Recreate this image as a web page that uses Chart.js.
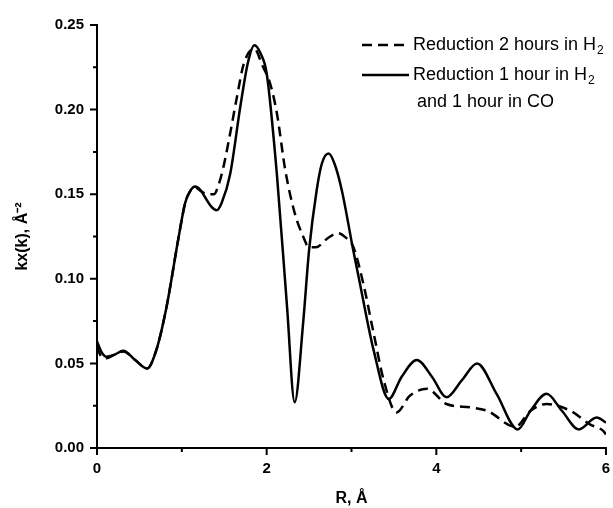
<!DOCTYPE html>
<html>
<head>
<meta charset="utf-8">
<script src="https://cdn.jsdelivr.net/npm/chart.js@4.4.1/dist/chart.umd.min.js"></script>
<style>
    html, body { margin: 0; padding: 0; background: #fff; }
    #wrap { width: 613px; height: 508px; }
</style>
</head>
<body>
<div id="wrap"><canvas id="exafsChart" width="613" height="508"></canvas></div>
<script>
// Reduction 2 hours in H2 (dashed)
const rH2 = [0.00, 0.05, 0.11, 0.20, 0.31, 0.45, 0.59, 0.70, 0.82, 0.96, 1.04, 1.10, 1.156, 1.22, 1.30, 1.38, 1.43, 1.49, 1.57, 1.65, 1.73, 1.855, 1.95, 2.04, 2.12, 2.22, 2.33, 2.43, 2.50, 2.58, 2.72, 2.84, 2.94, 3.02, 3.14, 3.26, 3.38, 3.53, 3.69, 3.89, 4.12, 4.40, 4.60, 4.93, 5.11, 5.30, 5.58, 5.81, 5.97, 6.00];
const kxH2 = [0.060, 0.054, 0.053, 0.055, 0.057, 0.052, 0.047, 0.058, 0.0835, 0.124, 0.145, 0.152, 0.154, 0.152, 0.150, 0.150, 0.155, 0.166, 0.186, 0.2076, 0.227, 0.236, 0.226, 0.2155, 0.198, 0.164, 0.139, 0.125, 0.1186, 0.1186, 0.124, 0.127, 0.124, 0.119, 0.097, 0.068, 0.040, 0.021, 0.031, 0.035, 0.026, 0.024, 0.022, 0.0125, 0.022, 0.026, 0.022, 0.014, 0.010, 0.008];

// Reduction 1 hour in H2 and 1 hour in CO (solid)
const rCO = [0.00, 0.05, 0.11, 0.20, 0.31, 0.45, 0.59, 0.70, 0.82, 0.96, 1.04, 1.10, 1.156, 1.22, 1.27, 1.35, 1.41, 1.47, 1.57, 1.69, 1.78, 1.855, 1.93, 2.00, 2.12, 2.24, 2.33, 2.43, 2.50, 2.59, 2.65, 2.73, 2.80, 2.885, 3.02, 3.10, 3.26, 3.44, 3.59, 3.77, 3.95, 4.12, 4.30, 4.48, 4.71, 4.96, 5.11, 5.30, 5.48, 5.68, 5.89, 6.00];
const kxCO = [0.063, 0.057, 0.054, 0.055, 0.0575, 0.052, 0.047, 0.058, 0.0835, 0.124, 0.145, 0.152, 0.1545, 0.1525, 0.1485, 0.1425, 0.1405, 0.145, 0.162, 0.202, 0.228, 0.238, 0.233, 0.2215, 0.162, 0.0835, 0.027, 0.074, 0.117, 0.1525, 0.168, 0.174, 0.168, 0.1525, 0.117, 0.097, 0.058, 0.029, 0.042, 0.052, 0.042, 0.030, 0.040, 0.050, 0.032, 0.011, 0.022, 0.032, 0.022, 0.011, 0.018, 0.015];

const xTickLabels = ['0', '2', '4', '6'];
const yTickLabels = ['0.00', '0.05', '0.10', '0.15', '0.20', '0.25'];

const labelFont = { family: '"Liberation Sans", Arial, sans-serif', size: 15, weight: 'bold' };
const titleFont = { family: '"Liberation Sans", Arial, sans-serif', size: 16, weight: 'bold' };

function toPoints(xs, ys) {
    return xs.map((x, i) => ({ x: x, y: ys[i] }));
}

function isMajorY(v) {
    const q = v / 0.05;
    return Math.abs(q - Math.round(q)) < 1e-6;
}

// outward tick marks, long for labelled ticks and short for the others
const tickMarks = {
    id: 'tickMarks',
    afterDraw(chart) {
        const ctx = chart.ctx;
        const xs = chart.scales.x;
        const ys = chart.scales.y;
        ctx.save();
        ctx.strokeStyle = '#000';
        ctx.lineWidth = 2;
        ctx.beginPath();
        xs.ticks.forEach(t => {
            const px = xs.getPixelForValue(t.value);
            const len = Math.round(t.value) % 2 === 0 ? 7 : 4;
            ctx.moveTo(px, xs.top);
            ctx.lineTo(px, xs.top + len);
        });
        ys.ticks.forEach(t => {
            const py = ys.getPixelForValue(t.value);
            const len = isMajorY(t.value) ? 7 : 4;
            ctx.moveTo(ys.right, py);
            ctx.lineTo(ys.right - len, py);
        });
        ctx.stroke();
        ctx.restore();
    }
};

// legend in the top right corner, with subscripts
const legendBox = {
    id: 'legendBox',
    afterDraw(chart) {
        const ctx = chart.ctx;
        const area = chart.chartArea;
        const x0 = area.right - 244;
        const rows = [area.top + 20, area.top + 50, area.top + 77];
        ctx.save();
        ctx.fillStyle = '#000';
        ctx.strokeStyle = '#000';
        ctx.lineWidth = 2.5;
        ctx.textBaseline = 'middle';
        ctx.textAlign = 'left';

        ctx.setLineDash([10, 6]);
        ctx.beginPath();
        ctx.moveTo(x0, rows[0]);
        ctx.lineTo(x0 + 47, rows[0]);
        ctx.stroke();
        ctx.setLineDash([]);
        ctx.beginPath();
        ctx.moveTo(x0, rows[1]);
        ctx.lineTo(x0 + 47, rows[1]);
        ctx.stroke();

        const big = '18px "Liberation Sans", Arial, sans-serif';
        const small = '12px "Liberation Sans", Arial, sans-serif';
        const texts = ['Reduction 2 hours in H', 'Reduction 1 hour in H'];
        texts.forEach((txt, i) => {
            ctx.font = big;
            ctx.fillText(txt, x0 + 51, rows[i]);
            const w = ctx.measureText(txt).width;
            ctx.font = small;
            ctx.fillText('2', x0 + 51 + w + 1, rows[i] + 6);
        });
        ctx.font = big;
        ctx.fillText('and 1 hour in CO', x0 + 55, rows[2]);
        ctx.restore();
    }
};

new Chart(document.getElementById('exafsChart'), {
    type: 'line',
    data: {
        datasets: [
            {
                label: 'Reduction 2 hours in H2',
                data: toPoints(rH2, kxH2),
                borderColor: '#000',
                borderWidth: 2.5,
                borderDash: [10, 6],
                pointRadius: 0,
                cubicInterpolationMode: 'monotone',
                fill: false
            },
            {
                label: 'Reduction 1 hour in H2 and 1 hour in CO',
                data: toPoints(rCO, kxCO),
                borderColor: '#000',
                borderWidth: 2.5,
                pointRadius: 0,
                cubicInterpolationMode: 'monotone',
                fill: false
            }
        ]
    },
    options: {
        responsive: false,
        animation: false,
        devicePixelRatio: 1,
        layout: { padding: { top: 25, right: 7, left: 0, bottom: 0 } },
        plugins: {
            legend: { display: false },
            tooltip: { enabled: false }
        },
        scales: {
            x: {
                type: 'linear',
                min: 0,
                max: 6,
                afterFit: scale => {
                    scale.height = 60;
                    scale.paddingLeft = 0;
                    scale.paddingRight = 7;
                },
                grid: { display: false, drawTicks: false, tickLength: 0 },
                border: { display: true, color: '#000', width: 2 },
                ticks: {
                    stepSize: 1,
                    autoSkip: false,
                    maxRotation: 0,
                    padding: 12,
                    color: '#000',
                    font: labelFont,
                    callback: v => xTickLabels.includes(String(v)) ? String(v) : ''
                },
                title: {
                    display: true,
                    text: 'R, Å',
                    color: '#000',
                    font: titleFont,
                    padding: 0
                }
            },
            y: {
                min: 0,
                max: 0.25,
                afterFit: scale => { scale.width = 97; },
                grid: { display: false, drawTicks: false, tickLength: 0 },
                border: { display: true, color: '#000', width: 2 },
                ticks: {
                    stepSize: 0.025,
                    autoSkip: false,
                    padding: 13,
                    color: '#000',
                    font: labelFont,
                    callback: v => {
                        const s = v.toFixed(2);
                        return isMajorY(v) && yTickLabels.includes(s) ? s : '';
                    }
                },
                title: {
                    display: true,
                    text: 'kx(k), Å⁻²',
                    color: '#000',
                    font: titleFont,
                    padding: { top: 13, bottom: 0 }
                }
            }
        }
    },
    plugins: [tickMarks, legendBox]
});
</script>
</body>
</html>
